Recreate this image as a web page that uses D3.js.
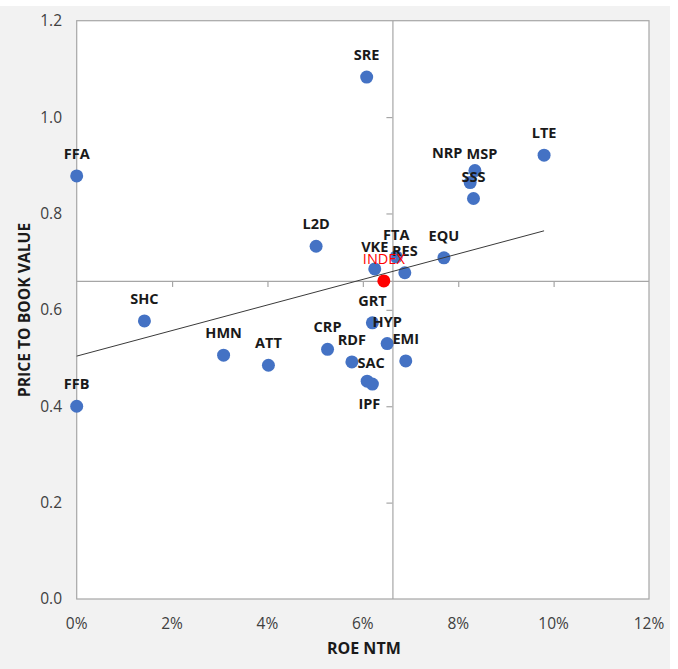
<!DOCTYPE html>
<html>
<head>
<meta charset="utf-8">
<script src="https://cdn.jsdelivr.net/npm/d3@7"></script>
<style>
  html, body { margin: 0; padding: 0; background: #ffffff; }
  svg { display: block; }
  text { font-family: "Open Sans", "DejaVu Sans", sans-serif; }
</style>
</head>
<body>
<div id="chart"></div>
<script>
// ---------- data ----------
const names = ["FFA","FFB","SHC","HMN","ATT","CRP","L2D","RDF","SAC","IPF","SRE","VKE","GRT","HYP","FTA","RES","EMI","EQU","NRP","MSP","SSS","LTE"];
const roe   = [0.0000,0.0000,0.0142,0.0308,0.0402,0.0526,0.0502,0.0577,0.0609,0.0620,0.0608,0.0625,0.0620,0.0651,0.0670,0.0688,0.0690,0.0770,0.0825,0.0835,0.0832,0.0980];
const pbv   = [0.878,0.400,0.577,0.506,0.485,0.518,0.732,0.492,0.452,0.446,1.083,0.685,0.573,0.530,0.710,0.677,0.494,0.708,0.864,0.889,0.831,0.921];

const indexName = "INDEX";
const indexRoe = 0.0644;
const indexPbv = 0.660;

// axis crossing values (Excel "axis crosses at")
const xAxisCrossPbv = 0.660;
const yAxisCrossRoe = 0.0662;

// linear trendline
const trendRoe = [0.0, 0.098];
const trendPbv = [0.504, 0.764];

const xTicks = [0, 0.02, 0.04, 0.06, 0.08, 0.10, 0.12];
const yTicks = [0, 0.2, 0.4, 0.6, 0.8, 1.0, 1.2];

const xTitle = "ROE NTM";
const yTitle = "PRICE TO BOOK VALUE";

// label nudges (pixels) for hand-placed labels
const labelNudge = { NRP: [-23, -8], MSP: [7, 5], SAC: [4, 4], IPF: [-3, 42] };

// ---------- layout ----------
const W = 678, H = 669;
const plot = { left: 76.7, top: 20.7, right: 649, bottom: 599 };

const svg = d3.select("#chart").append("svg").attr("width", W).attr("height", H);

svg.append("rect").attr("x", 0).attr("y", 6).attr("width", 670).attr("height", H - 6).attr("fill", "#f2f2f2");

const x = d3.scaleLinear().domain([0, 0.12]).range([plot.left, plot.right]);
const y = d3.scaleLinear().domain([0, 1.2]).range([plot.bottom, plot.top]);

svg.append("rect")
  .attr("x", plot.left).attr("y", plot.top)
  .attr("width", plot.right - plot.left).attr("height", plot.bottom - plot.top)
  .attr("fill", "#ffffff").attr("stroke", "#a6a6a6").attr("stroke-width", 1.2);

// crossing axes with ticks
const xAxisG = svg.append("g").attr("transform", `translate(0,${y(xAxisCrossPbv)})`)
  .call(d3.axisBottom(x).tickValues(xTicks.filter(v => v > 0 && v < 0.12)).tickSize(6).tickFormat(""));
const yAxisG = svg.append("g").attr("transform", `translate(${x(yAxisCrossRoe)},0)`)
  .call(d3.axisLeft(y).tickValues(yTicks.filter(v => v > 0 && v < 1.2)).tickSize(6).tickFormat(""));
[xAxisG, yAxisG].forEach(g => {
  g.select(".domain").attr("stroke", "#a6a6a6").attr("stroke-width", 1.2);
  g.selectAll(".tick line").attr("stroke", "#a6a6a6").attr("stroke-width", 1.2);
});
// extend the domains across the full plot
xAxisG.select(".domain").attr("d", `M${plot.left},0.5H${plot.right}`);
yAxisG.select(".domain").attr("d", `M0.5,${plot.top}V${plot.bottom}`);

// tick labels (low position)
svg.append("g").selectAll("text").data(xTicks).join("text")
  .attr("x", d => x(d)).attr("y", 628.5)
  .attr("text-anchor", "middle").attr("font-size", 15.5).attr("fill", "#404040")
  .text(d => d3.format(".0%")(d));
svg.append("g").selectAll("text").data(yTicks).join("text")
  .attr("x", 62).attr("y", d => y(d)).attr("dy", "0.35em")
  .attr("text-anchor", "end").attr("font-size", 15.5).attr("fill", "#404040")
  .text(d => d3.format(".1f")(d));

// axis titles
svg.append("text").attr("x", (plot.left + plot.right) / 2 + 1).attr("y", 654)
  .attr("text-anchor", "middle").attr("font-size", 16).attr("font-weight", "bold").attr("fill", "#1a1a1a")
  .text(xTitle);
svg.append("text").attr("transform", `translate(30,${310}) rotate(-90)`)
  .attr("text-anchor", "middle").attr("font-size", 15.7).attr("font-weight", "bold").attr("fill", "#1a1a1a")
  .text(yTitle);

// points
const pts = names.map((n, i) => ({ name: n, roe: roe[i], pbv: pbv[i] }));
svg.append("g").selectAll("circle").data(pts).join("circle")
  .attr("cx", d => x(d.roe)).attr("cy", d => y(d.pbv)).attr("r", 6.5)
  .attr("fill", "#4472c4");
svg.append("circle").attr("cx", x(indexRoe)).attr("cy", y(indexPbv)).attr("r", 6.5).attr("fill", "#ff0000");

// trendline
const line = d3.line().x(d => x(d[0])).y(d => y(d[1]));
svg.append("path").datum(trendRoe.map((r, i) => [r, trendPbv[i]]))
  .attr("d", line).attr("fill", "none").attr("stroke", "#3a3a3a").attr("stroke-width", 1);

// labels
svg.append("g").selectAll("text").data(pts).join("text")
  .attr("x", d => x(d.roe) + (labelNudge[d.name] ? labelNudge[d.name][0] : 0))
  .attr("y", d => y(d.pbv) - 22 + (labelNudge[d.name] ? labelNudge[d.name][1] : 0))
  .attr("dy", "0.35em")
  .attr("text-anchor", "middle").attr("font-size", 14.5).attr("font-weight", "bold").attr("fill", "#1a1a1a")
  .text(d => d.name);
svg.append("text").attr("x", x(indexRoe)).attr("y", y(indexPbv) - 22).attr("dy", "0.35em")
  .attr("text-anchor", "middle").attr("font-size", 14.5).attr("fill", "#ff0000")
  .text(indexName);
</script>
</body>
</html>
